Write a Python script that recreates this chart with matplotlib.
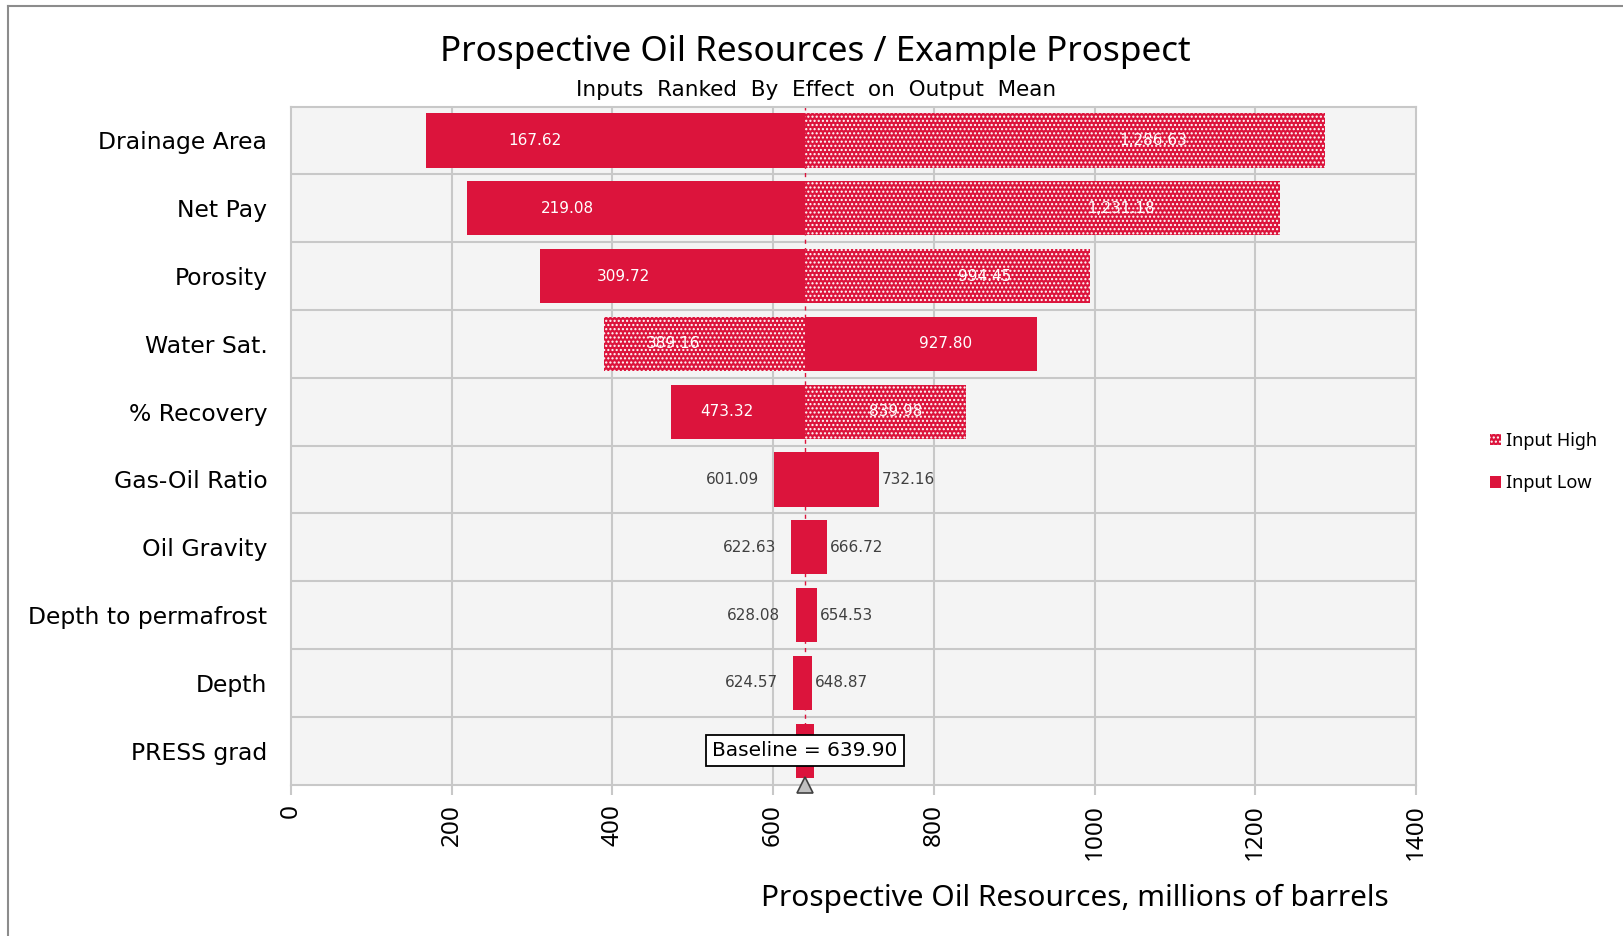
import numpy as np
import matplotlib.pyplot as plt
from matplotlib.lines import Line2D
from matplotlib.patches import Patch

# tornado data (millions of barrels)
inputs = ["Drainage Area", "Net Pay", "Porosity", "Water Sat.", "% Recovery",
          "Gas-Oil Ratio", "Oil Gravity", "Depth to permafrost", "Depth", "PRESS grad"]
left_vals = [167.62, 219.08, 309.72, 389.16, 473.32, 601.09, 622.63, 628.08, 624.57, 628.9]
right_vals = [1286.63, 1231.18, 994.45, 927.80, 839.98, 732.16, 666.72, 654.53, 648.87, 650.6]
high_side = ["right", "right", "right", "left", "right", "", "", "", "", ""]
show_vals = [True] * 9 + [False]
baseline = 639.90

x_ticks = [0, 200, 400, 600, 800, 1000, 1200, 1400]

red = "#DC143C"
grid_c = "#C8C8C8"
dots = "...."

fig = plt.figure(figsize=(16.23, 9.36), dpi=100)
ax = fig.add_axes([290.9 / 1623, 1 - 784.6 / 936, (1416 - 290.9) / 1623, (784.6 - 106.6) / 936])
ax.set_facecolor("#F4F4F4")

y = np.arange(len(inputs))
h = 0.8

for i in range(len(inputs)):
    lo, hi = left_vals[i], right_vals[i]
    # left half
    if high_side[i] == "left":
        ax.barh(y[i], baseline - lo, left=lo, height=h, color=red, edgecolor="white",
                linewidth=0, hatch=dots, zorder=3)
    else:
        ax.barh(y[i], baseline - lo, left=lo, height=h, color=red, linewidth=0, zorder=3)
    # right half
    if high_side[i] == "right":
        ax.barh(y[i], hi - baseline, left=baseline, height=h, color=red, edgecolor="white",
                linewidth=0, hatch=dots, zorder=3)
    else:
        ax.barh(y[i], hi - baseline, left=baseline, height=h, color=red, linewidth=0, zorder=3)

    if not show_vals[i]:
        continue
    if baseline - lo > 120:
        # wide bars: white values inside
        xl = lo + 32 + 0.22 * (baseline - lo)
        xr = hi - 32 - 0.28 * (hi - baseline)
        ax.text(xl, y[i], f"{lo:,.2f}", color="white", ha="center", va="center",
                fontsize=11, zorder=5)
        ax.text(xr, y[i], f"{hi:,.2f}", color="white", ha="center", va="center",
                fontsize=11, zorder=5)
    else:
        ax.annotate(f"{lo:,.2f}", (lo, y[i]), xytext=(-11, 0), textcoords="offset points",
                    ha="right", va="center", fontsize=11, color="#404040", zorder=5)
        ax.annotate(f"{hi:,.2f}", (hi, y[i]), xytext=(2, 0), textcoords="offset points",
                    ha="left", va="center", fontsize=11, color="#404040", zorder=5)

# baseline marker
ax.axvline(baseline, color=red, lw=1, ls=(0, (3, 3)), zorder=2)
ax.plot([baseline], [len(inputs) - 0.5], marker="^", ms=12, mfc="#C0C0C0", mec="#404040",
        mew=1.2, clip_on=False, zorder=6)
ax.text(baseline, y[-1], "Baseline = 639.90", ha="center", va="center", fontsize=14.5,
        color="black", zorder=7,
        bbox=dict(boxstyle="square,pad=0.3", fc="white", ec="black", lw=1.3))

ax.set_xlim(0, 1400)
ax.set_ylim(len(inputs) - 0.5, -0.5)
ax.set_xticks(x_ticks)
ax.set_xticklabels([str(t) for t in x_ticks], rotation=90, fontsize=17.5,
                   fontfamily="Noto Sans", va="top")
ax.set_yticks(y)
ax.set_yticklabels(inputs, fontsize=16.9)
ax.tick_params(axis="y", length=0, pad=17)
ax.tick_params(axis="x", length=7, width=1.5, color=grid_c, pad=7)

for xv in x_ticks[1:-1]:
    ax.axvline(xv, color=grid_c, lw=1.5, zorder=1)
for yv in np.arange(0.5, len(inputs) - 0.5, 1):
    ax.axhline(yv, color=grid_c, lw=1.5, zorder=1)
for sp in ax.spines.values():
    sp.set_color(grid_c)
    sp.set_linewidth(1.5)

fig.text(0.5026, 0.944, "Prospective Oil Resources / Example Prospect", ha="center",
         va="center", fontsize=25.3, fontfamily="Noto Sans")
fig.text(0.5026, 0.904, "Inputs  Ranked  By  Effect  on  Output  Mean", ha="center",
         va="center", fontsize=15.5)
fig.text(1074.5 / 1623, 1 - 898 / 936, "Prospective Oil Resources, millions of barrels",
         ha="center", va="center", fontsize=21.5, fontfamily="Noto Sans")

handles = [Patch(facecolor=red, edgecolor="white", linewidth=0, hatch=dots, label="Input High"),
           Patch(facecolor=red, linewidth=0, label="Input Low")]
fig.legend(handles=handles, loc="center left", bbox_to_anchor=(1474 / 1623, 1 - 462 / 936),
           frameon=False, handlelength=0.6, handleheight=0.6, handletextpad=0.3,
           labelspacing=1.35, prop={"family": "Noto Sans", "size": 13})

# outer frame
fig.add_artist(Line2D([8 / 1623, 8 / 1623], [0, 1 - 6 / 936], color="#8C8C8C", lw=1.5))
fig.add_artist(Line2D([8 / 1623, 1], [1 - 6 / 936, 1 - 6 / 936], color="#8C8C8C", lw=1.5))

fig.savefig("out.png", dpi=100)
